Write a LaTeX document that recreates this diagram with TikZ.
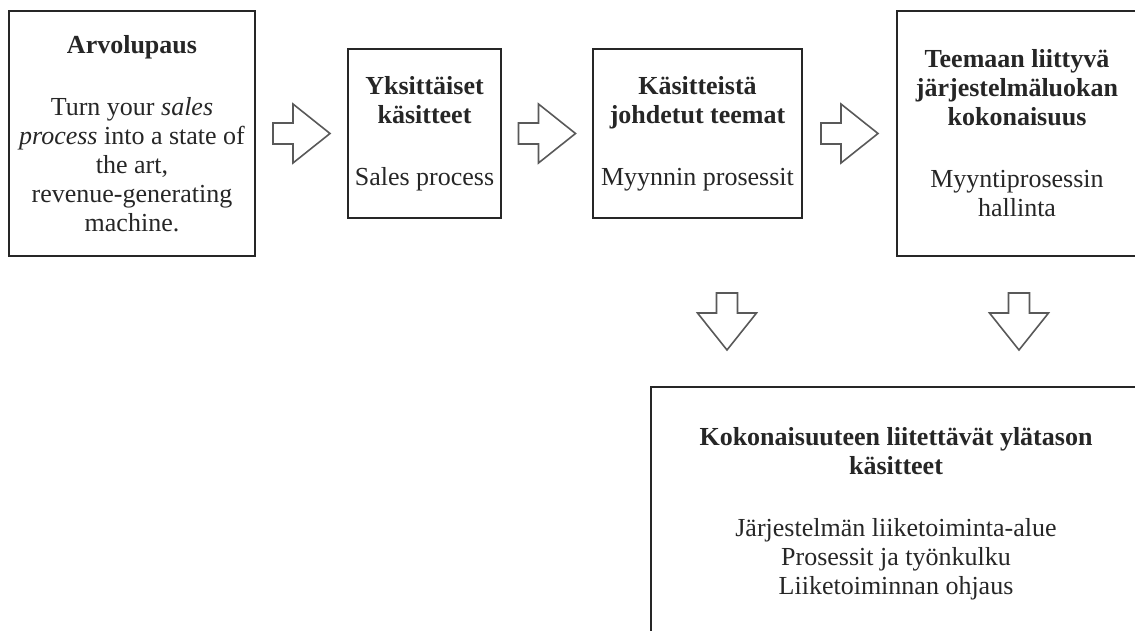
\documentclass[tikz,border=0pt]{standalone}
\usepackage{fontspec}
\setmainfont{Liberation Serif}
\usetikzlibrary{calc}

% outlined block arrow, tip pointing along +x
\tikzset{
  pics/blockarrow/.style={code={
    \draw[arrowline] (-28.5,-10.5) -- (-8.5,-10.5) -- (-8.5,-29.5) -- (28.5,0)
      -- (-8.5,29.5) -- (-8.5,10.5) -- (-28.5,10.5) -- cycle;
  }}
}

\begin{document}
\begin{tikzpicture}[x=1pt,y=-1pt,
  box/.style={draw=black!85, line width=1.4pt, rectangle, align=center,
    inner sep=0pt, font=\fontsize{26}{29}\selectfont, text=black!85},
  arrowline/.style={draw=black!65, line width=1.6pt, fill=white, line join=miter},
]
\useasboundingbox (0,0) rectangle (1135,630);
\clip (0,0) rectangle (1135,630);

% top row of boxes
\node[box, minimum width=246pt, minimum height=245pt] (b1) at (132,133.5)
  {\textbf{Arvolupaus}\\[33pt]
   Turn your \textit{sales}\\
   \textit{process} into a state of\\
   the art,\\
   revenue-generating\\
   machine.};
\node[box, minimum width=153pt, minimum height=169pt] (b2) at (424.5,133.5)
  {\textbf{Yksittäiset}\\ \textbf{käsitteet}\\[33pt] Sales process};
\node[box, minimum width=209pt, minimum height=169pt] (b3) at (697.5,133.5)
  {\textbf{Käsitteistä}\\ \textbf{johdetut teemat}\\[33pt] Myynnin prosessit};
\node[box, minimum width=240pt, minimum height=245pt] (b4) at (1017,133.5)
  {\textbf{Teemaan liittyvä}\\ \textbf{järjestelmäluokan}\\ \textbf{kokonaisuus}\\[33pt]
   Myyntiprosessin\\ hallinta};

% bottom box
\node[box, minimum width=490pt, minimum height=253pt] (b5) at (896,513.5)
  {\textbf{Kokonaisuuteen liitettävät ylätason}\\ \textbf{käsitteet}\\[33pt]
   Järjestelmän liiketoiminta-alue\\
   Prosessit ja työnkulku\\
   Liiketoiminnan ohjaus};

% arrows between the boxes
\pic at ($(b1.east)!0.5!(b2.west)$) {blockarrow};
\pic at ($(b2.east)!0.5!(b3.west)$) {blockarrow};
\pic at ($(b3.east)!0.5!(b4.west)$) {blockarrow};
\pic[rotate=-90] at (727,321.5) {blockarrow};
\pic[rotate=-90] at (1019,321.5) {blockarrow};
\end{tikzpicture}
\end{document}
